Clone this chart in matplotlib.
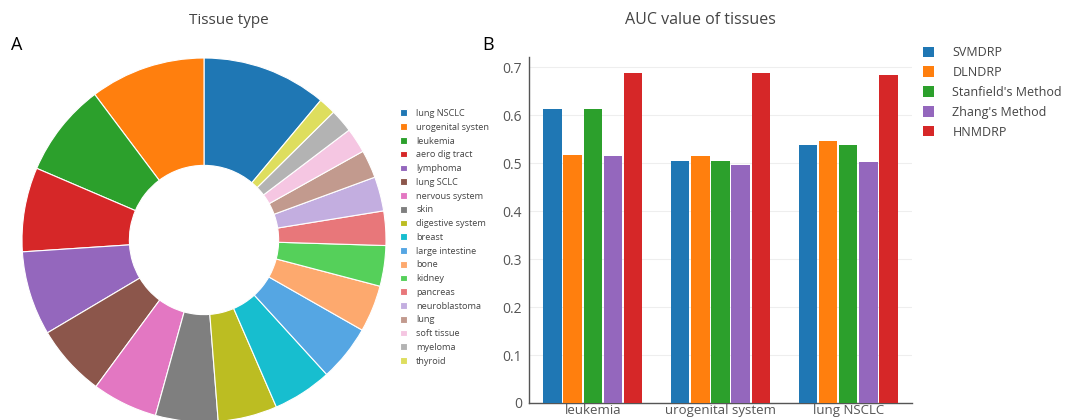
import matplotlib
matplotlib.use("Agg")
import matplotlib.pyplot as plt
import numpy as np

plt.rcParams['font.family'] = ['Open Sans', 'DejaVu Sans']

# pie data: tissue type counts (read from the donut)
tissues = ['lung NSCLC', 'urogenital systen', 'leukemia', 'aero dig tract', 'lymphoma',
           'lung SCLC', 'nervous system', 'skin', 'digestive system', 'breast',
           'large intestine', 'bone', 'kidney', 'pancreas', 'neuroblastoma',
           'lung', 'soft tissue', 'myeloma', 'thyroid']
tissue_counts = [40, 37, 30, 27, 27, 23, 21, 20, 19, 19, 18, 15, 13, 11, 11, 9, 8, 7.5, 5.5]
tissue_colors = ['#1f77b4', '#ff7f0e', '#2ca02c', '#d62728', '#9467bd',
                 '#8c564b', '#e377c2', '#7f7f7f', '#bcbd22', '#17becf',
                 '#55a6e3', '#fda96e', '#55d05a', '#e8777a', '#c3aee0',
                 '#c29a8e', '#f5c6e2', '#b3b3b3', '#dede5e']

# bar data: AUC value of tissues
groups = ['leukemia', 'urogenital system', 'lung NSCLC']
methods = ['SVMDRP', 'DLNDRP', "Stanfield's Method", "Zhang's Method", 'HNMDRP']
auc = {
    'SVMDRP': [0.612, 0.505, 0.538],
    'DLNDRP': [0.517, 0.514, 0.545],
    "Stanfield's Method": [0.612, 0.505, 0.538],
    "Zhang's Method": [0.515, 0.495, 0.502],
    'HNMDRP': [0.687, 0.687, 0.683],
}
method_colors = ['#1f77b4', '#ff7f0e', '#2ca02c', '#9467bd', '#d62728']

W, H = 1069, 420
fig = plt.figure(figsize=(W / 100, H / 100), dpi=100)


def fx(px):
    return px / W


def fy(py):
    return 1 - py / H


# ---- pie (A) ----
cx, cy, r = 204, 240, 182
ax1 = fig.add_axes([fx(cx - r), fy(cy + r), 2 * r / W, 2 * r / H])
start = 90 - 360.0 * tissue_counts[0] / sum(tissue_counts)
wedges, _ = ax1.pie(tissue_counts, colors=tissue_colors, startangle=start, counterclock=True,
                    radius=1, wedgeprops=dict(width=0.59, edgecolor='white', linewidth=0.8))
ax1.set_xlim(-1, 1)
ax1.set_ylim(-1, 1)
ax1.set_aspect('equal')
ax1.axis('off')

fig.text(fx(229), fy(20), 'Tissue type', ha='center', va='center', fontsize=11, color='#444444')
fig.text(fx(11), fy(45), 'A', ha='left', va='center', fontsize=13, color='black')

leg1 = fig.legend(wedges, tissues, loc='upper left', bbox_to_anchor=(fx(400), fy(109)),
                  frameon=False, fontsize=6.6, handlelength=0.75, handleheight=0.75,
                  handletextpad=1.0, labelspacing=0.52, borderpad=0, borderaxespad=0)
for t in leg1.get_texts():
    t.set_color('#444444')

# ---- bars (B) ----
ax2 = fig.add_axes([fx(529), fy(403), (912 - 529) / W, (403 - 57) / H])
x = np.arange(len(groups))
bw = 0.158
for i, m in enumerate(methods):
    ax2.bar(x + (i - 2) * bw, auc[m], width=bw * 0.92, color=method_colors[i], label=m, zorder=3)

ax2.set_xlim(-0.5, 2.5)
ax2.set_ylim(0, 0.721)
ax2.set_yticks([0, 0.1, 0.2, 0.3, 0.4, 0.5, 0.6, 0.7])
ax2.set_yticklabels(['0', '0.1', '0.2', '0.3', '0.4', '0.5', '0.6', '0.7'])
ax2.set_xticks(x)
ax2.set_xticklabels(groups)
ax2.tick_params(axis='y', length=0, labelsize=10, colors='#555555', pad=5)
ax2.tick_params(axis='x', length=0, labelsize=9.5, colors='#555555', pad=1)
ax2.grid(axis='y', color='#eeeeee', linewidth=0.8, zorder=0)
for s in ['top', 'right']:
    ax2.spines[s].set_visible(False)
for s in ['left', 'bottom']:
    ax2.spines[s].set_color('#555555')
    ax2.spines[s].set_linewidth(1)

fig.text(fx(700), fy(20), 'AUC value of tissues', ha='center', va='center', fontsize=11.5, color='#444444')
fig.text(fx(482), fy(45), 'B', ha='left', va='center', fontsize=13, color='black')

leg2 = fig.legend(loc='upper left', bbox_to_anchor=(fx(923), fy(46)), frameon=False,
                  fontsize=9, handlelength=0.9, handleheight=0.9, handletextpad=1.45,
                  labelspacing=0.55, borderpad=0, borderaxespad=0)
for t in leg2.get_texts():
    t.set_color('#444444')

fig.savefig('out.png', dpi=100)
